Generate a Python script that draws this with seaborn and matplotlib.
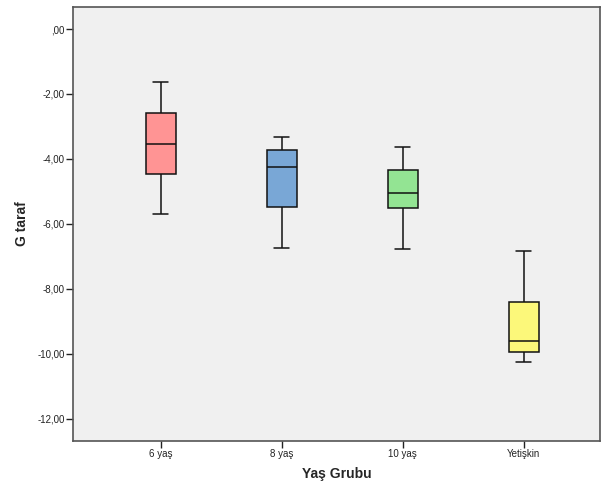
import numpy as np
import pandas as pd
import matplotlib
matplotlib.use("Agg")
import matplotlib.pyplot as plt
from matplotlib.ticker import FuncFormatter
import seaborn as sns

# five-number summaries: [min, Q1, median, Q3, max]
groups = ["6 yaş", "8 yaş", "10 yaş", "Yetişkin"]
g6 = [-5.71, -4.48, -3.54, -2.58, -1.64]
g8 = [-6.75, -5.48, -4.26, -3.72, -3.34]
g10 = [-6.78, -5.50, -5.04, -4.34, -3.64]
gad = [-10.27, -9.94, -9.61, -8.40, -6.85]
colors = ["#ff9494", "#79a7d6", "#93e493", "#fcf87a"]
yticks = [0, -2, -4, -6, -8, -10, -12]

df = pd.DataFrame({
    "grup": np.repeat(groups, 5),
    "G taraf": g6 + g8 + g10 + gad,
})

sns.set_style("white")
plt.rcParams['font.family'] = ['Liberation Sans', 'DejaVu Sans']

fig = plt.figure(figsize=(6.01, 4.88), dpi=100)
ax = fig.add_axes([73/601, 1-440.7/488, 527/601, (440.7-7.3)/488])
ax.set_facecolor("#f0f0f0")

sns.boxplot(data=df, x="grup", y="G taraf", hue="grup", palette=colors,
            order=groups, width=0.25, whis=(0, 100), linecolor="#111111",
            linewidth=1.1, saturation=1, legend=False, ax=ax)

ax.set_xlim(-0.727, 3.63)
ax.set_ylim(-12.68, 0.67)
ax.set_yticks(yticks)
ax.yaxis.set_major_formatter(FuncFormatter(
    lambda v, p: ",00" if v == 0 else f"{v:.2f}".replace(".", ",")))

for s in ax.spines.values():
    s.set_color("#555555")
    s.set_linewidth(1.2)

ax.tick_params(axis="both", direction="out", length=5, width=1,
               bottom=True, left=True,
               color="#222222", labelsize=7, labelcolor="#222222", pad=1)
ax.set_xlabel("Yaş Grubu", fontsize=10, fontweight="bold", labelpad=6)
ax.set_ylabel("G taraf", fontsize=10, fontweight="bold", labelpad=6)

fig.savefig("out.png", dpi=100, facecolor="white")
